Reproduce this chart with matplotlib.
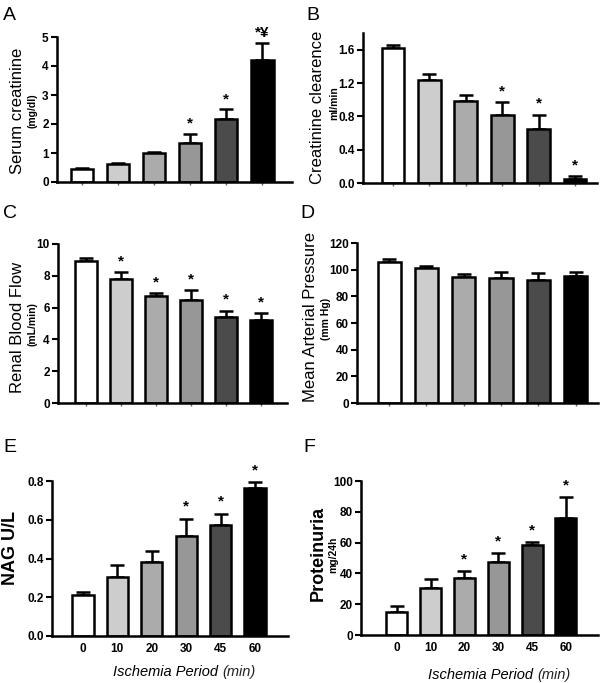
import numpy as np
import matplotlib
matplotlib.use("Agg")
import matplotlib.pyplot as plt

# Ischemia period groups (min)
groups = ["0", "10", "20", "30", "45", "60"]
bar_colors = ["#ffffff", "#cdcdcd", "#ababab", "#979797", "#4b4b4b", "#000000"]

# Panel data: means and upper SEM
creat_mean = [0.45, 0.62, 1.01, 1.33, 2.16, 4.22]
creat_err = [0.03, 0.03, 0.03, 0.32, 0.34, 0.57]
creat_marks = ["", "", "", "*", "*", "*¥"]

clear_mean = [1.62, 1.23, 0.98, 0.81, 0.65, 0.05]
clear_err = [0.03, 0.08, 0.08, 0.16, 0.17, 0.03]
clear_marks = ["", "", "", "*", "*", "*"]

rbf_mean = [8.93, 7.81, 6.70, 6.45, 5.44, 5.21]
rbf_err = [0.21, 0.40, 0.21, 0.63, 0.36, 0.42]
rbf_marks = ["", "*", "*", "*", "*", "*"]

map_mean = [105.5, 101.3, 94.5, 93.7, 92.0, 95.5]
map_err = [2.5, 1.5, 2.5, 4.3, 5.5, 2.5]
map_marks = ["", "", "", "", "", ""]

nag_mean = [0.210, 0.307, 0.380, 0.516, 0.575, 0.764]
nag_err = [0.015, 0.058, 0.060, 0.090, 0.057, 0.029]
nag_marks = ["", "", "", "*", "*", "*"]

prot_mean = [15.2, 30.7, 36.8, 47.2, 58.2, 76.2]
prot_err = [3.4, 5.4, 4.5, 5.8, 2.2, 13.4]
prot_marks = ["", "", "*", "*", "*", "*"]

W, H = 600, 683
fig = plt.figure(figsize=(W / 100, H / 100), dpi=100)
plt.rcParams["font.family"] = ["Liberation Sans", "DejaVu Sans"]

tick_font = {"family": ["Liberation Sans", "DejaVu Sans"], "weight": "bold", "size": 8.5}


def px_axes(left, right, top, bottom):
    return fig.add_axes([left / W, 1 - bottom / H, (right - left) / W, (bottom - top) / H])


def draw_panel(ax, mean, err, marks, ylim, yticks, ytick_fmt, xlim, xlabels, star_pad):
    x = np.arange(len(mean))
    ax.bar(x, mean, width=0.62, color=bar_colors, edgecolor="black", linewidth=1.8, zorder=2)
    ax.errorbar(x, mean, yerr=[np.zeros(len(err)), err], fmt="none", ecolor="black",
                elinewidth=1.8, capsize=5, capthick=1.8, zorder=1)
    for xi, m, e, s in zip(x, mean, err, marks):
        if s:
            ax.text(xi, m + e + star_pad, s, ha="center", va="bottom", fontsize=11,
                    weight="bold")
    ax.set_ylim(*ylim)
    ax.set_xlim(*xlim)
    ax.set_yticks(yticks)
    ax.set_yticklabels([ytick_fmt.format(t) for t in yticks], fontdict=tick_font)
    ax.set_xticks(x)
    if xlabels:
        ax.set_xticklabels(xlabels, fontdict=tick_font)
        ax.tick_params(axis="x", length=0, pad=5)
    else:
        ax.set_xticklabels([])
        ax.tick_params(axis="x", length=2, width=1, color="#666666")
    ax.tick_params(axis="y", length=4, width=1.5, pad=2)
    for side in ["top", "right"]:
        ax.spines[side].set_visible(False)
    for side in ["left", "bottom"]:
        ax.spines[side].set_linewidth(1.8)
    ax.patch.set_alpha(0)


# A
axA = px_axes(57, 292, 37, 182)
draw_panel(axA, creat_mean, creat_err, creat_marks, (0, 5), [0, 1, 2, 3, 4, 5], "{:g}",
           (-0.69, 5.82), None, 0.12)
# B
axB = px_axes(363, 597, 33, 183)
draw_panel(axB, clear_mean, clear_err, clear_marks, (0, 1.8), [0.0, 0.4, 0.8, 1.2, 1.6], "{:.1f}",
           (-0.82, 5.6), None, 0.05)
# C
axC = px_axes(58, 287, 244, 403)
draw_panel(axC, rbf_mean, rbf_err, rbf_marks, (0, 10), [0, 2, 4, 6, 8, 10], "{:g}",
           (-0.8, 5.74), None, 0.25)
# D
axD = px_axes(357, 598, 243, 403)
draw_panel(axD, map_mean, map_err, map_marks, (0, 120), [0, 20, 40, 60, 80, 100, 120], "{:g}",
           (-0.86, 5.6), None, 3)
# E
axE = px_axes(52, 288, 481, 636)
draw_panel(axE, nag_mean, nag_err, nag_marks, (0, 0.8), [0.0, 0.2, 0.4, 0.6, 0.8], "{:.1f}",
           (-0.9, 5.96), groups, 0.025)
# F
axF = px_axes(361, 598, 481, 635)
draw_panel(axF, prot_mean, prot_err, prot_marks, (0, 100), [0, 20, 40, 60, 80, 100], "{:g}",
           (-1.06, 5.95), groups, 3)


def ftext(px, py, s, **kw):
    fig.text(px / W, 1 - py / H, s, **kw)


# panel letters
for lbl, px, py in [("A", 3, 15), ("B", 306, 15), ("C", 3, 213), ("D", 300, 213),
                    ("E", 3, 447), ("F", 303, 447)]:
    ftext(px, py, lbl, fontsize=14, ha="left", va="center")

# y labels
ftext(18, 111, "Serum creatinine", rotation=90, fontsize=12, ha="center", va="center")
ftext(32, 111, "(mg/dl)", rotation=90, fontsize=7.5, weight="bold", ha="center", va="center")

ftext(318, 107, "Creatinine clearence", rotation=90, fontsize=12, ha="center", va="center")
ftext(334, 103, "ml/min", rotation=90, fontsize=7.5, weight="bold", ha="center", va="center")

ftext(18, 327, "Renal Blood Flow", rotation=90, fontsize=12, ha="center", va="center")
ftext(33, 324, "(mL/min)", rotation=90, fontsize=7.5, weight="bold", ha="center", va="center")

ftext(310, 317, "Mean Arterial Pressure", rotation=90, fontsize=12, ha="center", va="center")
ftext(326, 319, "(mm Hg)", rotation=90, fontsize=7.5, weight="bold", ha="center", va="center")

ftext(11, 548, "NAG U/L", rotation=90, fontsize=13, weight="bold", ha="center", va="center")

ftext(318, 553, "Proteinuria", rotation=90, fontsize=13, weight="bold", ha="center", va="center")
ftext(333, 555, "mg/24h", rotation=90, fontsize=7.5, weight="bold", ha="center", va="center")

# x labels
for right_edge, cy in [(218, 672), (533, 675)]:
    ftext(right_edge, cy, "Ischemia Period", fontsize=10.5, style="italic",
          ha="right", va="center")
    ftext(right_edge + 4, cy, "(min)", fontsize=10.5, style="italic",
          ha="left", va="center", color="#222222")

fig.savefig("out.png", dpi=100)
